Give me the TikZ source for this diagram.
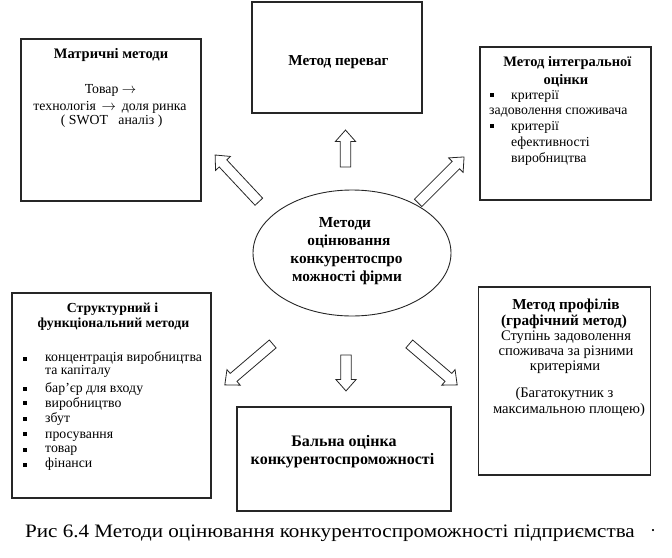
\documentclass[tikz,border=0pt]{standalone}
\usepackage{fontspec}
\setmainfont{Liberation Serif}
\newfontfamily\capfont[FakeStretch=1.11]{Liberation Serif}
\usetikzlibrary{shapes.arrows,shapes.geometric}
\begin{document}
\begin{tikzpicture}[x=1pt,y=-1pt,
  box/.style={draw=black!85, line width=1.1pt, inner sep=0pt},
  bt/.style={font=\bfseries\fontsize{14.5}{16}\selectfont, inner sep=0pt, anchor=base},
  bts/.style={font=\bfseries\fontsize{15.2}{16}\selectfont, inner sep=0pt, anchor=base},
  btl/.style={font=\bfseries\fontsize{15.3}{18}\selectfont, inner sep=0pt, anchor=base},
  btb/.style={font=\bfseries\fontsize{16}{19}\selectfont, inner sep=0pt, anchor=base},
  tx/.style={font=\fontsize{13.8}{15}\selectfont, inner sep=0pt, anchor=base},
  txp/.style={font=\fontsize{14.6}{15}\selectfont, inner sep=0pt, anchor=base},
  txl/.style={tx, anchor=base west},
  bul/.style={fill=black, inner sep=0pt, minimum size=4.8pt},
  barrow/.style={draw=black!85, line width=0.8pt, single arrow, inner xsep=0pt, inner ysep=4.8pt,
     single arrow head extend=5pt, single arrow tip angle=83, anchor=center}
]
\useasboundingbox (0,0) rectangle (672,557);

% boxes
\node[box, minimum width=180pt, minimum height=162pt] (matr) at (111,120) {};
\node[box, minimum width=170pt, minimum height=111pt] (perev) at (337,57.5) {};
\node[box, minimum width=171pt, minimum height=153pt] (integ) at (565.5,123.5) {};
\node[box, minimum width=199pt, minimum height=205pt] (struc) at (111.5,395.5) {};
\node[box, minimum width=214pt, minimum height=104pt] (bal) at (344,459) {};
\node[box, minimum width=172pt, minimum height=188pt] (prof) at (564.5,381) {};
\node[draw=black!85, line width=0.9pt, ellipse, minimum width=198pt, minimum height=126pt, inner sep=0pt] (ell) at (352,253) {};

% matrix methods
\node[bt] (m1) at (111,58) {Матричні методи};
\node[tx] (m2) at (110.5,93) {Товар $\rightarrow$};
\node[tx] (m3) at (110,110) {технологія \,$\rightarrow$\, доля ринка};
\node[tx] (m4) at (111.7,124) {( SWOT \ \ аналіз )};

% advantages
\node[bt, font=\bfseries\fontsize{15.2}{16}\selectfont] (p1) at (338.5,65) {Метод переваг};

% integral
\node[bt] (i1) at (567.5,66) {Метод інтегральної};
\node[bt] (i2) at (566,84) {оцінки};
\node[bul] (ib1) at (492,95) {};
\node[txl] (i3) at (511,99) {критерії};
\node[txl] (i4) at (489,114) {задоволення споживача};
\node[bul] (ib2) at (492,126) {};
\node[txl] (i5) at (511,130) {критерії};
\node[txl] (i6) at (511,146) {ефективності};
\node[txl] (i7) at (511,162) {виробництва};

% ellipse text
\node[btl] (e1) at (345,227) {Методи};
\node[btl] (e2) at (349,245) {оцінювання};
\node[btl] (e3) at (346.5,263) {конкурентоспро};
\node[btl] (e4) at (347,281) {можності фірми};

% structural
\node[bt, font=\bfseries\fontsize{13.8}{16}\selectfont] (s1) at (112.5,312) {Структурний і};
\node[bt, font=\bfseries\fontsize{13.8}{16}\selectfont] (s2) at (113.5,327) {функціональний методи};
\node[bul] (sb1) at (25,359) {};
\node[txl] (s3) at (45,361) {концентрація виробництва};
\node[txl] (s4) at (45,374) {та капіталу};
\node[bul] (sb2) at (25,389) {};
\node[txl] (s5) at (45,392) {бар’єр для входу};
\node[bul] (sb3) at (25,403) {};
\node[txl] (s6) at (45,407) {виробництво};
\node[bul] (sb4) at (25,419) {};
\node[txl] (s7) at (45,422) {збут};
\node[bul] (sb5) at (25,434) {};
\node[txl] (s8) at (45,438) {просування};
\node[bul] (sb6) at (25,450) {};
\node[txl] (s9) at (45,452) {товар};
\node[bul] (sb7) at (25,465) {};
\node[txl] (s10) at (45,467) {фінанси};

% ball
\node[btb] (b1) at (344,446) {Бальна оцінка};
\node[btb] (b2) at (342.5,464) {конкурентоспроможності};

% profiles
\node[bts] (r1) at (566,309) {Метод профілів};
\node[bts] (r2) at (564,325) {(графічний метод)};
\node[txp] (r3) at (566,340) {Ступінь задоволення};
\node[txp] (r4) at (566,355) {споживача за різними};
\node[txp] (r5) at (565,370) {критеріями};
\node[txp] (r6) at (564.5,397) {(Багатокутник з};
\node[txp] (r7) at (569,413) {максимальною площею)};

% block arrows
\node[barrow, minimum height=64pt, rotate=133.1] (a1) at (239,180.5) {};
\node[barrow, minimum height=37pt, rotate=90] (a2) at (345.5,151.5) {};
\node[barrow, minimum height=65pt, rotate=45] (a3) at (439,182) {};
\node[barrow, minimum height=63pt, rotate=220.5] (a4) at (251,362.5) {};
\node[barrow, minimum height=36pt, rotate=270] (a5) at (346,370) {};
\node[barrow, minimum height=63pt, rotate=-40.5] (a6) at (431,362.5) {};

% caption
\node[font=\capfont\fontsize{19}{21}\selectfont, inner sep=0pt, anchor=base] (cap) at (330,537) {Рис 6.4 Методи оцінювання конкурентоспроможності підприємства};
\node[font=\fontsize{18}{21}\selectfont, inner sep=0pt, anchor=base] (dot) at (653,536) {·};
\end{tikzpicture}
\end{document}
